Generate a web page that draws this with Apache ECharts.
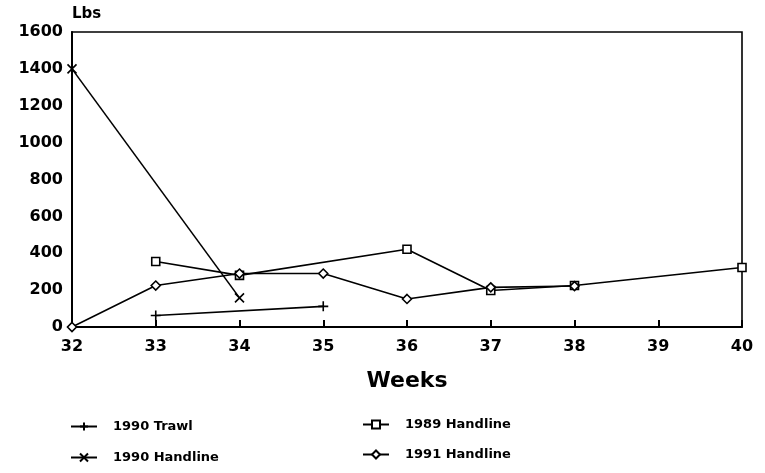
<!DOCTYPE html>
<html><head><meta charset="utf-8">
<script src="https://cdn.jsdelivr.net/npm/echarts@6/dist/echarts.min.js"></script>
<style>html,body{margin:0;padding:0;background:#fff}#c{width:765px;height:473px}</style>
</head><body><div id="c"></div>
<script>
const trawl1990Weeks = [33, 35];
const trawl1990Lbs = [62, 112];
const hand1990Weeks = [32, 34];
const hand1990Lbs = [1400, 158];
const hand1989Weeks = [33, 34, 36, 37, 38, 40];
const hand1989Lbs = [355, 280, 422, 198, 225, 323];
const hand1991Weeks = [32, 33, 34, 35, 36, 37, 38];
const hand1991Lbs = [0, 225, 290, 290, 152, 215, 222];
const yTicks = [0, 200, 400, 600, 800, 1000, 1200, 1400, 1600];
const xTicks = [32, 33, 34, 35, 36, 37, 38, 39, 40];
const seriesNames = ['1990 Trawl', '1990 Handline', '1989 Handline', '1991 Handline'];

const pair = (xs, ys) => xs.map((x, i) => [x, ys[i]]);
const F = '"DejaVu Sans", "Liberation Sans", Arial, sans-serif';
const plusSym = 'path://M0,5L10,5M5,0L5,10';
const xSym = 'path://M0,0L10,10M10,0L0,10';

const chart = echarts.init(document.getElementById('c'));
function mk(name, data, symbol, size, fill) {
  return {
    name, type: 'line', data: data, symbol, symbolSize: size,
    showAllSymbol: true, animation: false,
    lineStyle: {color: '#000', width: 1.6},
    itemStyle: {color: fill, borderColor: '#000', borderWidth: 1.6},
    emphasis: {disabled: true}
  };
}
const legendText = {fontFamily: F, fontWeight: 'bold', fontSize: 13, color: '#000', padding: [0, 0, 0, 11]};
const legendPos = [[70, 420], [70, 451], [362, 418], [362, 448]];
const legends = seriesNames.map((n, i) => ({
  data: [n], left: legendPos[i][0], top: legendPos[i][1], padding: 0,
  itemWidth: 26, itemHeight: 10, textStyle: legendText
}));
chart.setOption({
  animation: false,
  grid: {left: 72, right: 23, top: 32, bottom: 146, show: true, borderColor: '#000', borderWidth: 1.6, backgroundColor: 'transparent'},
  xAxis: {
    type: 'value', min: 32, max: 40, interval: 1,
    name: 'Weeks', nameLocation: 'middle', nameGap: 43,
    nameTextStyle: {fontFamily: F, fontWeight: 'bold', fontSize: 22, color: '#000'},
    axisLine: {lineStyle: {color: '#000', width: 2}},
    axisTick: {inside: true, length: 7, lineStyle: {color: '#000', width: 2}},
    axisLabel: {fontFamily: F, fontWeight: 'bold', fontSize: 16, color: '#000', margin: 12,
      formatter: v => xTicks.includes(v) ? String(v) : ''},
    splitLine: {show: false}
  },
  yAxis: {
    type: 'value', min: 0, max: 1600, interval: 200,
    name: 'Lbs', nameLocation: 'end', nameGap: 10,
    nameTextStyle: {fontFamily: F, fontWeight: 'bold', fontSize: 15, color: '#000', align: 'left'},
    axisLine: {show: true, lineStyle: {color: '#000', width: 2}},
    axisTick: {show: false},
    axisLabel: {fontFamily: F, fontWeight: 'bold', fontSize: 16, color: '#000', margin: 9,
      formatter: v => yTicks.includes(v) ? String(v) : ''},
    splitLine: {show: false}
  },
  legend: legends,
  series: [
    mk(seriesNames[0], pair(trawl1990Weeks, trawl1990Lbs), plusSym, 10, 'none'),
    mk(seriesNames[1], pair(hand1990Weeks, hand1990Lbs), xSym, 9, 'none'),
    mk(seriesNames[2], pair(hand1989Weeks, hand1989Lbs), 'rect', 8, '#fff'),
    mk(seriesNames[3], pair(hand1991Weeks, hand1991Lbs), 'diamond', 9, '#fff')
  ]
});
</script></body></html>
